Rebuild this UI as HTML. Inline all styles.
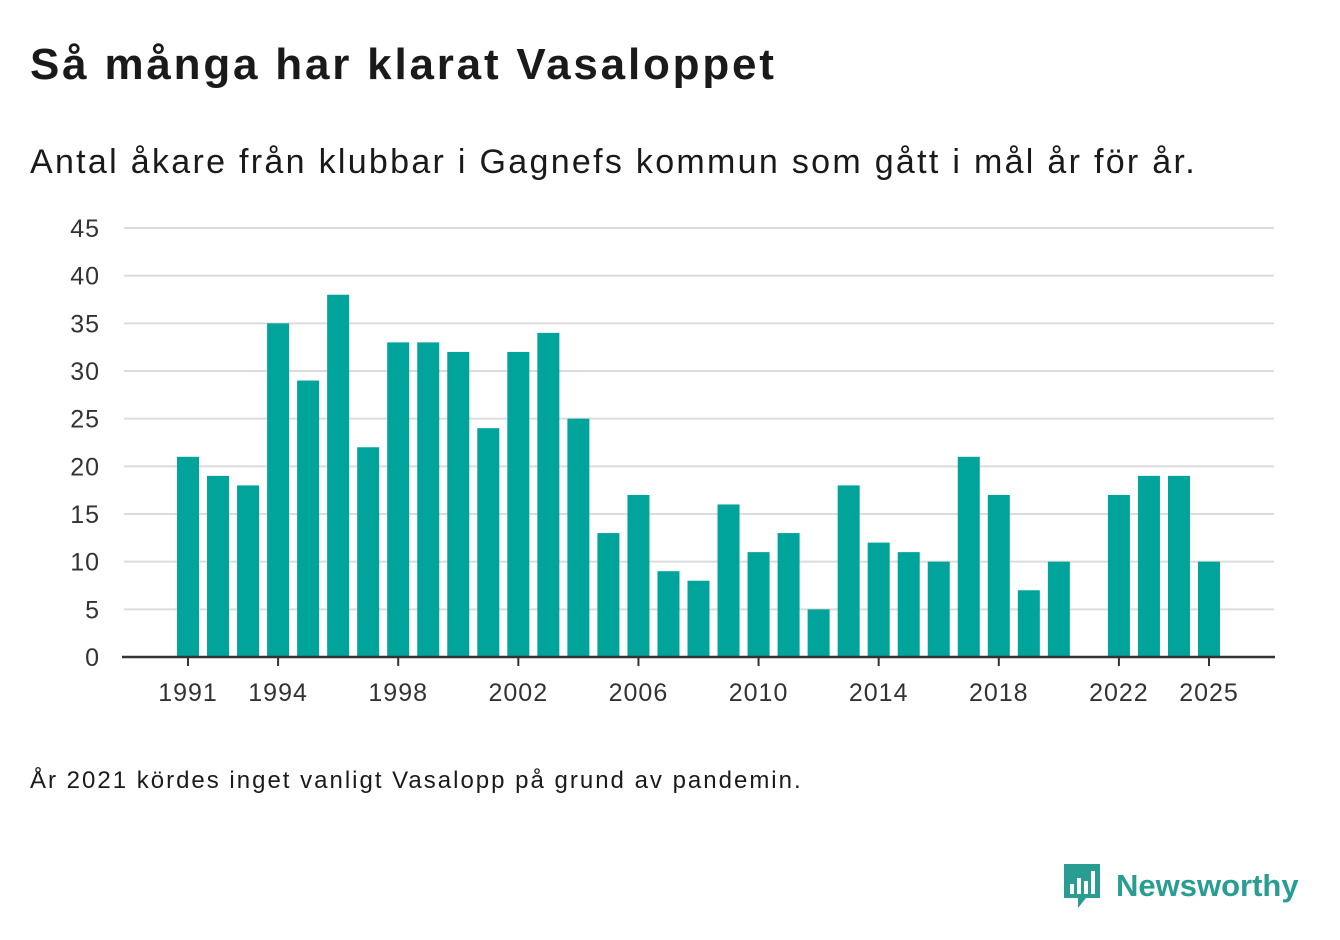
<!DOCTYPE html>
<html><head><meta charset="utf-8">
<style>
body{margin:0;width:1340px;height:940px;background:#fff;font-family:"Liberation Sans",sans-serif;color:#1a1a1a;position:relative;overflow:hidden}
#title{position:absolute;left:30px;top:40px;font-size:44px;font-weight:bold;margin:0;letter-spacing:2.8px;white-space:nowrap}
#sub{position:absolute;left:30px;top:143px;font-size:34px;letter-spacing:2.3px;white-space:nowrap}
#foot{position:absolute;left:30px;top:767px;font-size:24px;letter-spacing:2px;white-space:nowrap}
#logo{position:absolute;left:1062px;top:862px;display:flex;align-items:center;color:#2a9d93;font-size:31px;font-weight:bold}
svg text{font-family:"Liberation Sans",sans-serif}
</style></head><body>
<h1 id="title">Så många har klarat Vasaloppet</h1>
<div id="sub">Antal åkare från klubbar i Gagnefs kommun som gått i mål år för år.</div>
<svg id="chart" width="1340" height="740" style="position:absolute;left:0;top:0"></svg>
<div id="foot">År 2021 kördes inget vanligt Vasalopp på grund av pandemin.</div>
<div id="logo">
<svg width="40" height="48" viewBox="0 0 40 48" style="margin-right:14px"><path d="M2 2h36v34H24l-8 10v-10H2z" fill="#2a9d93"/><rect x="8" y="22" width="4" height="10" fill="#fff"/><rect x="15" y="16" width="4" height="16" fill="#fff"/><rect x="22" y="19" width="4" height="13" fill="#fff"/><rect x="29" y="9" width="4" height="23" fill="#fff"/></svg>Newsworthy</div>
<script>
const years=[1991,1992,1993,1994,1995,1996,1997,1998,1999,2000,2001,2002,2003,2004,2005,2006,2007,2008,2009,2010,2011,2012,2013,2014,2015,2016,2017,2018,2019,2020,2021,2022,2023,2024,2025];
const values=[21,19,18,35,29,38,22,33,33,32,24,32,34,25,13,17,9,8,16,11,13,5,18,12,11,10,21,17,7,10,null,17,19,19,10];
const yTicks=[0,5,10,15,20,25,30,35,40,45];
const xTickYears=[1991,1994,1998,2002,2006,2010,2014,2018,2022,2025];
const svg=document.getElementById('chart');
const NS='http://www.w3.org/2000/svg';
const x=yr=>188+(yr-1991)*(1209-188)/34;
const y=v=>657-v*(429/45);
function mk(t,a){const e=document.createElementNS(NS,t);for(const k in a)e.setAttribute(k,a[k]);svg.appendChild(e);return e;}
yTicks.forEach(v=>{
 if(v>0){const g=mk('line',{x1:124,x2:1274,y1:y(v),y2:y(v),stroke:'#dcdcdc','stroke-width':2});
 
 }
 const t=mk('text',{x:100,y:y(v)+9,'text-anchor':'end','font-size':25,fill:'#333','letter-spacing':1});t.textContent=v;
 
 
});
years.forEach((yr,i)=>{const v=values[i];if(v==null)return;
 const b=mk('rect',{x:x(yr)-11,y:y(v),width:22,height:y(0)-y(v),fill:'#00a49a'});
 
 
});
const ax=mk('line',{x1:122,x2:1275,y1:657,y2:657,stroke:'#333','stroke-width':2.5});


xTickYears.forEach(yr=>{
 const tk=mk('line',{x1:x(yr),x2:x(yr),y1:657,y2:666,stroke:'#333','stroke-width':2});
 
 
 const t=mk('text',{x:x(yr),y:701,'text-anchor':'middle','font-size':25,fill:'#333','letter-spacing':1});t.textContent=yr;
 
 
});
</script>
</body></html>
